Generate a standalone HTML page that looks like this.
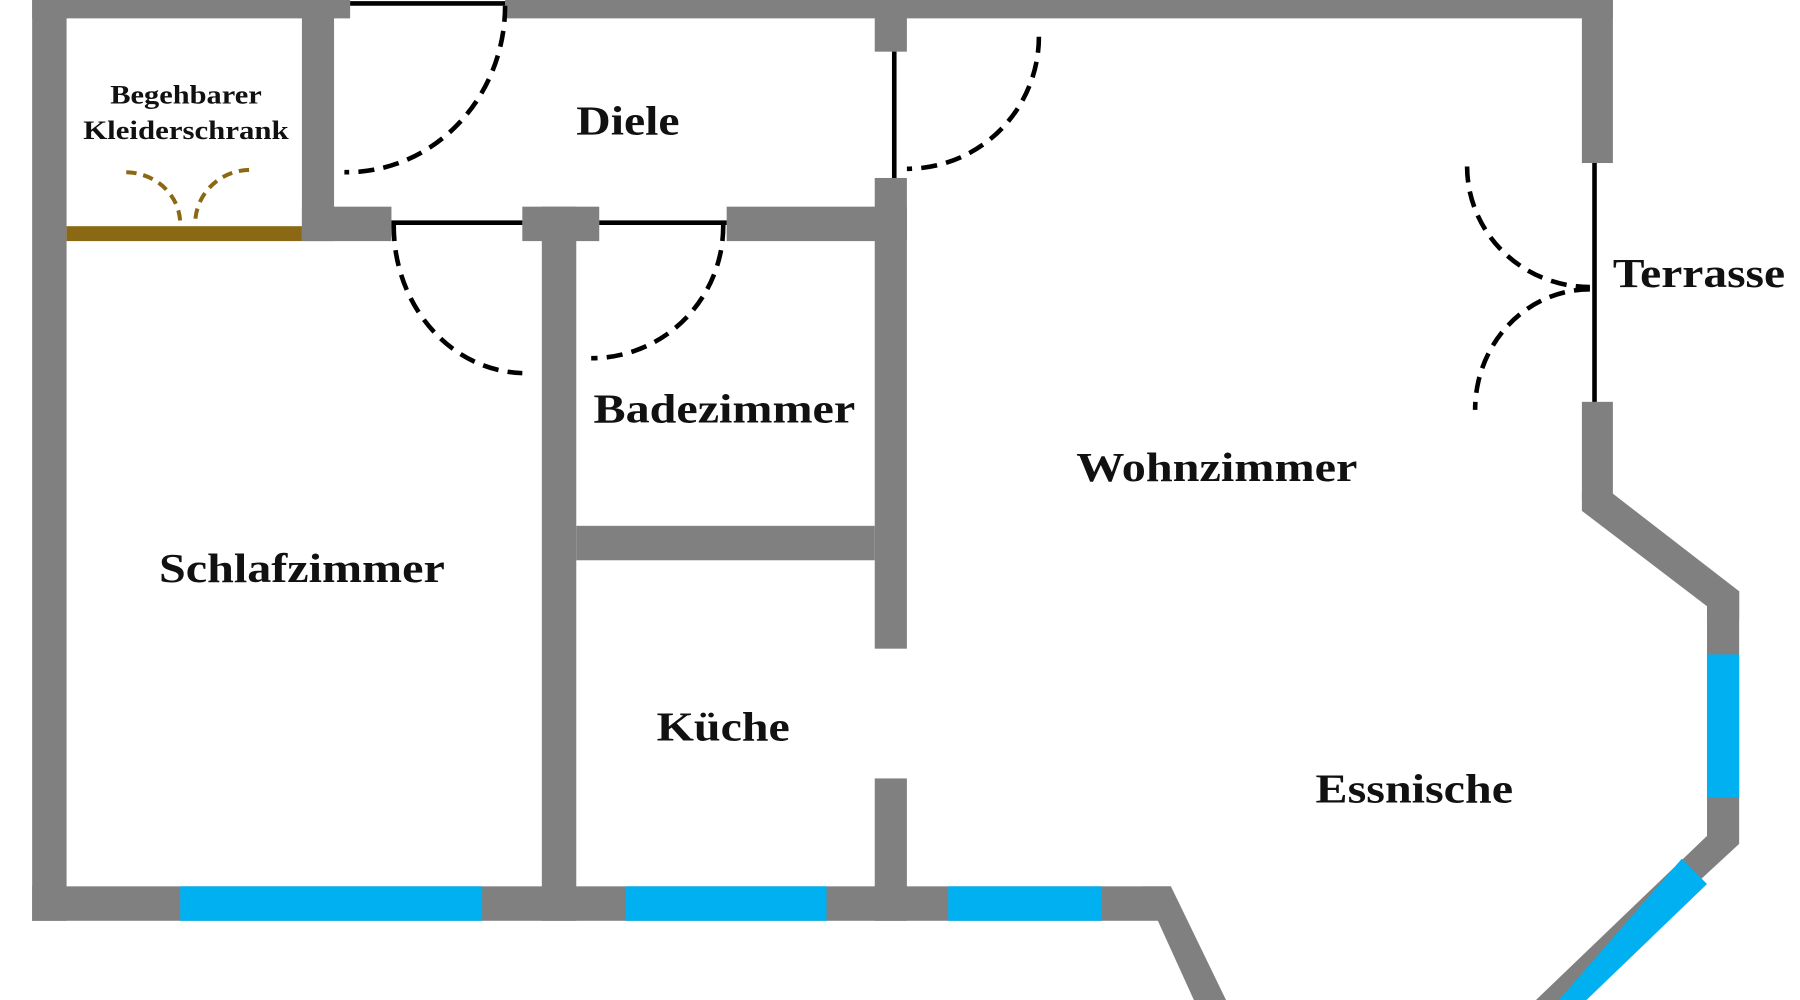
<!DOCTYPE html>
<html><head><meta charset="utf-8"><style>
html,body{margin:0;padding:0;background:#fff;}
svg{display:block;}
text{font-family:"Liberation Serif",serif;font-weight:bold;fill:#111;text-anchor:middle;}
</style></head><body>
<svg width="1800" height="1000" viewBox="0 0 1568 871" preserveAspectRatio="none" xmlns="http://www.w3.org/2000/svg">
<rect width="1568" height="871" fill="#fff"/>
<g fill="#808080">
<rect x="28" y="0" width="30" height="802"/>
<rect x="28" y="0" width="277" height="16"/>
<rect x="440" y="0" width="965" height="16"/>
<rect x="1378" y="0" width="27" height="142"/>
<rect x="1378" y="350" width="27" height="85"/>
<polygon points="1378,430 1405,430 1515,515 1515,540 1487,540 1487,528 1378,445"/>
<rect x="1487" y="515" width="28" height="220"/>
<polygon points="1487,728 1515,735 1368,871 1338,871"/>
<rect x="28" y="772" width="992" height="30"/>
<polygon points="995,772 1020,772 1068,871 1040,871"/>
<rect x="263" y="0" width="28" height="210"/>
<rect x="263" y="180" width="78" height="30"/>
<rect x="455" y="180" width="67" height="30"/>
<rect x="633" y="180" width="157" height="30"/>
<rect x="472" y="180" width="30" height="622"/>
<rect x="762" y="0" width="28" height="45"/>
<rect x="762" y="155" width="28" height="410"/>
<rect x="762" y="678" width="28" height="124"/>
<rect x="502" y="458" width="260" height="30"/>
</g>
<g fill="#00b0f0">
<rect x="157" y="772" width="263" height="30"/>
<rect x="545" y="772" width="175" height="30"/>
<rect x="826" y="772" width="134" height="30"/>
<rect x="1487" y="570" width="28" height="125"/>
<polygon points="1465,748 1487,770 1382,871 1358,871"/>
</g>
<rect x="58" y="197" width="205" height="13" fill="#8b6914"/>
<g stroke="#000" stroke-width="4">
<line x1="305" y1="3" x2="440" y2="3"/>
<line x1="341" y1="194" x2="455" y2="194"/>
<line x1="522" y1="194" x2="633" y2="194"/>
<line x1="779" y1="45" x2="779" y2="155"/>
<line x1="1389" y1="142" x2="1389" y2="350"/>
</g>
<g fill="none" stroke="#000" stroke-width="4" stroke-dasharray="14,8">
<path d="M440,5 A138,145 0 0 1 300,150"/>
<path d="M905,32 A115,115 0 0 1 790,147"/>
<path d="M343,196 A115,128 0 0 0 455,325"/>
<path d="M630,196 A115,115 0 0 1 515,312"/>
<path d="M1278,145 A107,105 0 0 0 1385,250"/>
<path d="M1385,252 A100,105 0 0 0 1285,357"/>
</g>
<g fill="none" stroke="#8b6914" stroke-width="3.5" stroke-dasharray="9,6">
<path d="M110,150 A48,45 0 0 1 157,195"/>
<path d="M217,148 A48,47 0 0 0 170,195"/>
</g>
<text x="162" y="90" font-size="23" textLength="132" lengthAdjust="spacingAndGlyphs">Begehbarer</text>
<text x="162" y="121" font-size="23" textLength="179" lengthAdjust="spacingAndGlyphs">Kleiderschrank</text>
<text x="547" y="117" font-size="36" textLength="90" lengthAdjust="spacingAndGlyphs">Diele</text>
<text x="631" y="368" font-size="36" textLength="228" lengthAdjust="spacingAndGlyphs">Badezimmer</text>
<text x="263" y="507" font-size="36" textLength="249" lengthAdjust="spacingAndGlyphs">Schlafzimmer</text>
<text x="1060" y="419" font-size="36" textLength="245" lengthAdjust="spacingAndGlyphs">Wohnzimmer</text>
<text x="630" y="645" font-size="36" textLength="116" lengthAdjust="spacingAndGlyphs">Küche</text>
<text x="1232" y="699" font-size="36" textLength="172" lengthAdjust="spacingAndGlyphs">Essnische</text>
<text x="1480" y="250" font-size="36" textLength="150" lengthAdjust="spacingAndGlyphs">Terrasse</text>
</svg>
</body></html>
